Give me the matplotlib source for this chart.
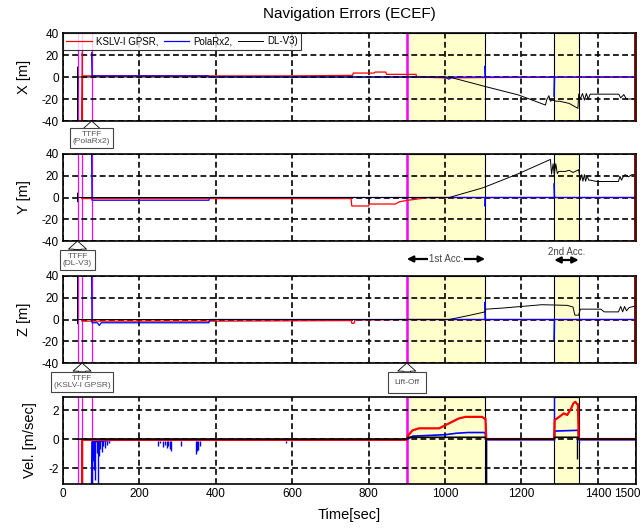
import matplotlib.pyplot as plt
from matplotlib.transforms import ScaledTranslation

plt.rcParams['font.family'] = ['Liberation Sans', 'DejaVu Sans']
plt.rcParams['axes.unicode_minus'] = False

# ---- event times [sec] ----
ttff_dlv3 = 38
ttff_kslv = 50
ttff_polarx = 75
lift_off = 900
acc1 = (900, 1105)
acc2 = (1286, 1350)
end_mark = 1497

# ---- X error [m] ----
x_red_t = [50, 50, 51, 600, 758, 760, 815, 817, 845, 847, 924, 926, 1000, 1100, 1500]
x_red_v = [22, -40, 1, 1, 1.5, 3.6, 3.6, 4.5, 4.5, 2.4, 2.4, 0, -0.8, -0.5, 0]
x_blue_t = [75, 76, 380, 382, 1000, 1010, 1020, 1105, 1105, 1106, 1286, 1286, 1287, 1500]
x_blue_v = [22, 1, 1, 0, 0, -2, 0, 0, 10, 0, 0, -18, 0, 0]
x_black_t = [38, 38, 39, 1011, 1107, 1193, 1263, 1266, 1272, 1276, 1282, 1290, 1300, 1325,
             1348, 1350, 1354, 1360, 1365, 1370, 1375, 1380, 1393, 1455, 1460, 1468, 1475, 1489, 1500]
x_black_v = [9, -39, 0, 0, -8.8, -16.4, -25.5, -21, -17, -22, -21, -22, -22, -24,
             -28.5, -15.6, -20, -15, -21, -15, -20, -15.6, -15.6, -15.6, -19, -16, -20, -20, -20]

# ---- Y error [m] ----
y_red_t = [50, 754, 756, 800, 802, 870, 880, 900, 958, 1500]
y_red_v = [-1, -1, -7.8, -7.8, -6, -6, -4, -2.7, 0, 0]
y_blue_t = [75, 76, 382, 384, 1105, 1105, 1106, 1286, 1286, 1287, 1500]
y_blue_v = [40, -2.5, -2.5, 0, 0, -8, 0, 0, 13, 0, 0]
y_black_t = [38, 38, 39, 1011, 1100, 1193, 1276, 1279, 1283, 1286, 1290, 1294, 1298, 1315, 1325,
             1335, 1350, 1354, 1358, 1361, 1365, 1368, 1372, 1376, 1380, 1393, 1402, 1454, 1458,
             1462, 1468, 1472, 1480, 1489, 1500]
y_black_v = [4, -4, 0, 0, 9, 22, 35, 21.5, 31, 21, 31, 22, 24, 24, 25,
             23, 25.5, 16, 21, 15, 21, 15, 20, 16, 16, 15, 14.7, 14.7, 19.5,
             16, 20, 21, 19, 21, 21]

# ---- Z error [m] ----
z_red_t = [50, 400, 755, 756, 762, 764, 900, 1500]
z_red_v = [-1.5, -1.5, -1, -3.5, -3.5, -0.5, 0, 0]
z_blue_t = [75, 76, 90, 95, 100, 382, 384, 1105, 1105, 1106, 1286, 1286, 1287, 1500]
z_blue_v = [40, -3, -3, -5.5, -3, -3, 0, 0, 16, 0, 0, -19, 0, 0]
z_black_t = [38, 38, 39, 1011, 1060, 1105, 1107, 1150, 1200, 1254, 1320, 1335, 1340, 1350,
             1354, 1408, 1417, 1454, 1460, 1465, 1470, 1475, 1482, 1500]
z_black_v = [40, -4, 0, 0, 3.5, 7, 9.5, 10.5, 12, 13.6, 13, 11.5, 4, 4,
             9.5, 9.5, 7, 7, 12, 7, 12, 8, 11, 12.5]

# ---- velocity error [m/sec] ----
v_red_t = [50, 50, 51, 900, 902, 915, 932, 985, 993, 1036, 1054, 1097, 1103, 1106, 1108,
           1286, 1287, 1300, 1311, 1320, 1330, 1336, 1341, 1346, 1348, 1350, 1500]
v_red_v = [-3.2, 0, -0.05, -0.05, 0.2, 0.6, 0.74, 0.74, 0.85, 1.42, 1.53, 1.53, 1.42, 1.42, 0,
           0, 1.31, 1.55, 1.77, 1.66, 2.1, 2.46, 2.57, 2.41, 2.41, 0, 0]
v_blue_t = [75, 76, 130, 900, 915, 1000, 1030, 1060, 1105, 1107, 1286, 1287, 1345, 1349, 1350, 1500]
v_blue_v = [-3.2, -0.2, -0.08, -0.05, 0.2, 0.3, 0.4, 0.45, 0.45, -0.05, -0.05, 0.55, 0.6, 0.6, -0.05, -0.05]
v_blue_spike_t = [75, 79, 82, 85, 88, 92, 95, 97, 101, 106, 110, 114, 120, 249, 255, 262, 266,
                  271, 276, 280, 284, 310, 347, 350, 353, 358, 584, 1107, 1286, 1352]
v_blue_spike_v = [-3.2, -1.5, -2.1, -2.8, -0.95, -3.2, -1.2, -0.7, -0.9, -0.5, -0.6, -0.4, -0.3,
                  -0.5, -0.3, -0.55, -0.4, -0.6, -0.5, -0.7, -0.8, -0.5, -1.0, -0.8, -0.73,
                  -0.5, -0.27, -3.2, 3.0, -0.3]
v_black_t = [38, 900, 905, 1105, 1107, 1286, 1288, 1348, 1350, 1500]
v_black_v = [0, 0, 0.12, 0.12, 0, 0, 0.12, 0.12, 0, 0]
v_black_spike_t = [1107, 1346]
v_black_spike_v = [-3.2, -1.4]

x_ticks = [0, 200, 400, 600, 800, 1000, 1200, 1400, 1500]

# ---------------------------------------------------------------------------
fig = plt.figure(figsize=(6.41, 5.30), dpi=100)
H = 530.0
left, width = 63 / 641, 573 / 641
rows = [(33, 121), (154, 241), (276, 363), (397, 484)]
axs = [fig.add_axes([left, 1 - b / H, width, (b - t) / H]) for t, b in rows]

grid_kw = dict(color='black', linestyle=(0, (3.5, 2)), linewidth=1.2)

for i, ax in enumerate(axs):
    ax.axvspan(*acc1, facecolor='#ffffcc', edgecolor='black', linewidth=0.8, zorder=0)
    ax.axvspan(*acc2, facecolor='#ffffcc', edgecolor='black', linewidth=0.8, zorder=0)
    for t in (ttff_dlv3, ttff_kslv, ttff_polarx):
        ax.axvline(t, color='#ff00ff', linewidth=0.9, zorder=1)
    ax.axvline(lift_off, color='#ff00ff', linewidth=1.8, zorder=1)
    ax.set_xlim(0, 1500)
    ax.set_xticks(x_ticks)
    ax.grid(True, **grid_kw)
    ax.set_axisbelow('line')
    ax.tick_params(length=0, labelsize=8.5, pad=3)
    for s in ax.spines.values():
        s.set_linewidth(1.2)
    if i < 3:
        ax.set_ylim(-40, 40)
        ax.set_yticks([-40, -20, 0, 20, 40])
        ax.set_xticklabels([])
        ax.axvline(end_mark, color='#700000', linewidth=1.3, zorder=3)

series = [
    (x_red_t, x_red_v, x_blue_t, x_blue_v, x_black_t, x_black_v, 'X [m]'),
    (y_red_t, y_red_v, y_blue_t, y_blue_v, y_black_t, y_black_v, 'Y [m]'),
    (z_red_t, z_red_v, z_blue_t, z_blue_v, z_black_t, z_black_v, 'Z [m]'),
]
for ax, (rt, rv, bt, bv, kt, kv, lab) in zip(axs[:3], series):
    ax.plot(rt, rv, color='red', linewidth=0.9, label='KSLV-I GPSR,')
    ax.plot(bt, bv, color='blue', linewidth=0.9, label='PolaRx2,')
    ax.plot(kt, kv, color='black', linewidth=0.7, label='DL-V3)')
    ax.set_ylabel(lab, fontsize=10.5, labelpad=8)

av = axs[3]
av.plot(v_blue_t, v_blue_v, color='blue', linewidth=1.2)
av.vlines(v_blue_spike_t, -0.1, v_blue_spike_v, color='blue', linewidth=1.0)
av.plot(v_red_t, v_red_v, color='red', linewidth=1.6)
av.plot(v_black_t, v_black_v, color='black', linewidth=1.2)
av.vlines(v_black_spike_t, 0, v_black_spike_v, color='black', linewidth=1.0)
av.set_ylim(-3.1, 2.9)
av.set_yticks([-2, 0, 2])
av.set_xticklabels([str(v) for v in x_ticks])
last = av.get_xticklabels()[-1]
last.set_transform(last.get_transform() + ScaledTranslation(-6 / 72, 0, fig.dpi_scale_trans))
av.set_ylabel('Vel. [m/sec]', fontsize=10.5, labelpad=8)
av.set_xlabel('Time[sec]', fontsize=10.5, labelpad=6)

leg = axs[0].legend(loc='upper left', ncol=3, fontsize=7, frameon=True, fancybox=False,
                    borderaxespad=0, handlelength=2.6, columnspacing=0.6, handletextpad=0.4,
                    borderpad=0.35)
leg.get_frame().set_edgecolor('black')
leg.get_frame().set_linewidth(0.8)

fig.text(0.5 * (63 + 636) / 641, 1 - 14 / H, 'Navigation Errors (ECEF)', ha='center',
         va='center', fontsize=11)

# ---- annotations ----
box_kw = dict(fc='white', ec='#444444', lw=0.8)
arr_kw = dict(arrowstyle='simple,head_width=1.0,head_length=0.45,tail_width=0.4',
              fc='white', ec='black', lw=0.6, shrinkA=0, shrinkB=0, mutation_scale=13)
notes = [
    (axs[0], ttff_polarx, 'TTFF\n(PolaRx2)', -12.5, 0.35),
    (axs[1], ttff_dlv3, 'TTFF\n(DL-V3)', -13.5, 0.35),
    (axs[2], ttff_kslv, 'TTFF\n(KSLV-I GPSR)', -13.8, 0.35),
    (axs[2], lift_off, 'Lift-Off', -14, 0.8),
]
for ax, t, txt, off, pad in notes:
    bk = dict(box_kw, boxstyle='square,pad=%g' % pad)
    ax.annotate(txt, xy=(t, 0), xycoords=ax.get_xaxis_transform(), xytext=(0, off),
                textcoords='offset points', ha='center', va='center', fontsize=6,
                color='#555555', linespacing=1.0, bbox=bk, arrowprops=arr_kw,
                annotation_clip=False)

ax = axs[1]
tr = ax.get_xaxis_transform()
y_arr = -(259 - 241) / 87
ax.annotate('', xy=(acc1[0], y_arr), xytext=(acc1[1], y_arr), xycoords=tr, textcoords=tr,
            arrowprops=dict(arrowstyle='<|-|>', color='black', lw=1.6, mutation_scale=9,
                            shrinkA=0, shrinkB=0), annotation_clip=False)
ax.text(sum(acc1) / 2, y_arr, '1st Acc.', transform=tr, ha='center', va='center',
        fontsize=7, color='#444444', bbox=dict(fc='white', ec='none', pad=0.5))
y_arr2 = -(260 - 241) / 87
ax.annotate('', xy=(acc2[0], y_arr2), xytext=(acc2[1], y_arr2), xycoords=tr, textcoords=tr,
            arrowprops=dict(arrowstyle='<|-|>', color='black', lw=1.6, mutation_scale=9,
                            shrinkA=0, shrinkB=0), annotation_clip=False)
ax.text(sum(acc2) / 2, -(252 - 241) / 87, '2nd Acc.', transform=tr, ha='center',
        va='center', fontsize=7, color='#444444')

fig.savefig('out.png', dpi=100)
